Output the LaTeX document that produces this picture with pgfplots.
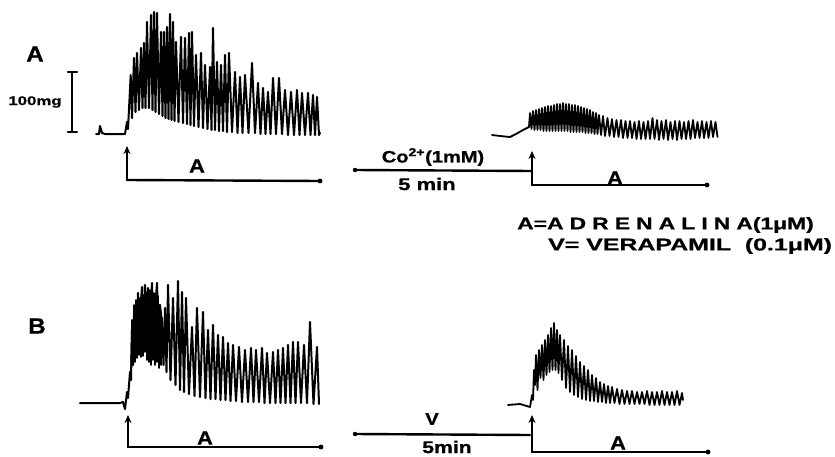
\documentclass[border=0pt]{standalone}
\usepackage{pgfplots}
\pgfplotsset{compat=1.18}
\usepackage{graphicx}
\usepackage{fontspec}
\setmainfont{Liberation Sans}[BoldFeatures={FakeBold=0.8}]
\usetikzlibrary{arrows.meta}
\newcommand\wide[2]{\scalebox{#1}[1]{#2}}
\begin{document}
\begin{tikzpicture}
\begin{axis}[scale only axis, width=835bp, height=457bp,
  xmin=0, xmax=835, ymin=0, ymax=457, y dir=reverse,
  hide axis, clip=false,
  every axis plot/.append style={black, line join=round, line cap=round}]
% invisible frame to fix the bounding box
\addplot[draw=none] coordinates {(0,0) (835,457)};

% ---------- Panel A, trace 1 ----------
\addplot[line width=2.0bp] coordinates {
(96,134) (99,134) (100,126) (102,133) (105,134) (125,134)
(127,122) (128,129) (130.7,75) (132,118) (134,58) (135.5,112) (137,53) (139,110)
(141,48) (142.5,108) (144,43) (145.5,108) (147,22) (149,108) (151,15) (152.5,110)
(154,12) (155.5,112) (157,13) (159,114) (161,32) (162.5,116) (164,32) (165.5,118)
(167,27) (168.5,119) (170,14) (171.5,120) (173,22) (174.5,121) (176,42) (178.5,122)
(181,37) (183,123) (185,38) (187,124) (189,33) (190.5,125) (192,32) (194,126)
(196,55) (198.5,127) (201,53) (203,128) (205,65) (207.5,129) (210,67) (211.5,130)
(213,28) (215,130) (217,62) (219,131) (221,65) (223,131) (225,55) (227,132)
(229,53) (232,132) (235,72) (237.5,133) (240,77) (242.5,133) (245,75) (248.5,133)
(252,63) (255,133) (258,83) (260.5,134) (263,88) (265.5,134) (268,92) (270.5,134)
(273,78) (276,134) (279,78) (282,134) (285,90) (288,135) (291,92) (294,135)
(297,90) (299.5,135) (302,93) (305,135) (308,93) (310.5,135) (313,95) (315,135)
(317,97) (319,135) (320,133)};

% ---------- Panel A, trace 2 ----------
\addplot[line width=1.8bp] coordinates {
(492,135) (500,136) (510,137) (516,134) (523,130) (527,128) (529,127)
(530,113) (531.5,129) (533,111) (534.5,130) (536,110) (537.5,130) (539,109) (540.5,130)
(542,108) (543.5,131) (545,107) (546.5,131) (548,106) (549.5,131) (551,106) (552.5,131)
(554,105) (555.5,131) (557,104) (558.5,131) (560,104) (561.5,131) (563,103) (564.5,131)
(566,104) (567.5,131) (569,104) (570.5,132) (572,105) (573.5,132) (575,105) (576.5,132)
(578,106) (579.5,132) (581,107) (582.5,132) (584,108) (585.5,133) (587,109) (588.5,133)
(590,110) (591.5,133) (593,112) (594.5,134) (596,113) (597.5,134) (599,115) (601,135)
(603,116) (605,136) (607.5,118) (609.5,136) (612,119) (614,137) (616.5,120) (618.5,137)
(621,120) (623,138) (625.5,121) (627.5,138) (630,121) (632,138) (634.5,122) (636.5,139)
(639,121) (641,139) (643.5,122) (645.5,139) (648,121) (650,139) (652.5,118) (654.5,139)
(657,120) (659,140) (661.5,121) (663.5,139) (666,120) (668,140) (670.5,122) (672.5,139)
(675,121) (677,140) (679.5,121) (681.5,139) (684,122) (686,139) (688.5,121) (690.5,139)
(693,120) (695,138) (697.5,122) (699.5,138) (702,121) (704,138) (706.5,122) (708.5,138)
(711,121) (713,137) (715.5,122) (717.5,137)};

% ---------- Panel B, trace 1 ----------
\addplot[line width=1.6bp] coordinates {
(131,370) (132,320) (133,360) (134,305) (135,362) (136,300) (137,358) (138,296)
(139,355) (140,298) (141,357) (142,292) (143,356) (144,295) (145,352) (146,292)
(147,360) (148,296) (149,362) (150,290) (151,365) (152,298) (153,360) (154,293)
(155,365) (156,300) (157,362) (158,296) (159,368) (160,305) (161,365) (162,318)};
\addplot[line width=2.0bp] coordinates {
(80,403) (120,403) (123,402) (125,409) (127,392) (128,398) (130,372) (131,380)
(132,330) (133,365) (135,308) (136.5,350) (138,293) (139.5,345) (141,300) (142,287)
(143.5,340) (145,285) (146.5,335) (148,288) (149.5,338) (151,300) (152,283) (154,345)
(155,310) (157,283) (159,350) (160,305) (162,322) (163.5,365) (165,308) (166.5,372)
(168,285) (170.5,380) (173,298) (175.5,385) (178,281) (180,390) (182,292) (184,392)
(186,298) (189,394) (192,327) (194.5,396) (197,308) (200,397) (203,312) (205.5,398)
(208,330) (210.5,399) (213,325) (215.5,399) (218,335) (220.5,400) (223,337) (225.5,400)
(228,343) (230.5,401) (233,345) (236,401) (239,347) (242,402) (245,350) (248,402)
(251,348) (253.5,402) (256,350) (259,402) (262,348) (264.5,403) (267,353) (270,403)
(273,352) (275.5,403) (278,350) (280.5,403) (283,348) (285.5,403) (288,345) (290.5,403)
(293,342) (295.5,403) (298,342) (301,403) (304,345) (307,403) (310,322) (313.5,404)
(317,347) (319,404)};

% ---------- Panel B, trace 2 ----------
\addplot[line width=1.8bp] coordinates {
(508,405) (520,404) (530,407) (532,395) (533,400) (534,370) (535,385) (536,355)
(537.5,390) (539,350) (540.5,378) (542,345) (543.5,380) (545,340) (546.5,375) (548,335)
(549.5,372) (551,328) (552.5,370) (554,323) (555.5,370) (557,330) (558.5,373) (560,335)
(562,380) (564,340) (566,388) (568,346) (570,392) (572,350) (574,395) (576,356)
(578,397) (580,362) (582,399) (584,366) (586,400) (588,370) (590,401) (592,375)
(594,401) (596,378) (598,402) (600,382) (602,402) (604,384) (606,403) (608,386)
(610,403) (612,387) (614.5,403) (617,389) (619.5,404) (622,390) (624.5,404) (627,391)
(629.5,404) (632,391) (634.5,404) (637,392) (639.5,404) (642,392) (644.5,404) (647,391)
(649.5,405) (652,392) (654.5,405) (657,392) (659.5,405) (662,391) (664.5,405) (667,392)
(669.5,405) (672,392) (674.5,405) (677,391) (679.5,405) (682,393) (683,400)};

% ---------- scale bar ----------
\addplot[line width=2.4bp] coordinates {(72,72) (72,132)};
\addplot[line width=2.4bp] coordinates {(68,72) (77,72)};
\addplot[line width=2.4bp] coordinates {(68,132) (77,132)};

% ---------- event markers, panel A ----------
\addplot[line width=2.4bp, -{Stealth[length=8bp,width=7bp]}] coordinates {(127,180) (127,146)};
\addplot[line width=2.4bp] coordinates {(127,180) (320,181)};
\addplot[only marks, mark=*, mark size=2.2bp] coordinates {(320,181)};
\addplot[line width=2.4bp] coordinates {(355,170) (532,171)};
\addplot[only marks, mark=*, mark size=2bp] coordinates {(355,170)};
\addplot[line width=2.4bp, -{Stealth[length=8bp,width=7bp]}] coordinates {(532,185) (532,151)};
\addplot[line width=2.4bp] coordinates {(532,185) (707,185)};
\addplot[only marks, mark=*, mark size=2.2bp] coordinates {(707,185)};

% ---------- event markers, panel B ----------
\addplot[line width=2.4bp, -{Stealth[length=8bp,width=7bp]}] coordinates {(128,447) (128,415)};
\addplot[line width=2.4bp] coordinates {(128,447) (321,447)};
\addplot[only marks, mark=*, mark size=2.2bp] coordinates {(321,447)};
\addplot[line width=2.4bp] coordinates {(355,434) (530,435)};
\addplot[only marks, mark=*, mark size=2bp] coordinates {(355,434)};
\addplot[line width=2.4bp, -{Stealth[length=8bp,width=7bp]}] coordinates {(532,452) (532,415)};
\addplot[line width=2.4bp] coordinates {(532,452) (708,452)};
\addplot[only marks, mark=*, mark size=2.2bp] coordinates {(708,452)};

% ---------- text ----------
\node[inner sep=0] at (axis cs:35,54) {\wide{1.1}{\fontsize{22}{22}\selectfont\bfseries A}};
\node[inner sep=0] at (axis cs:37,326) {\wide{1.1}{\fontsize{22}{22}\selectfont\bfseries B}};
\node[inner sep=0] at (axis cs:35,102) {\wide{1.35}{\fontsize{12.5}{12.5}\selectfont\bfseries 100mg}};
\node[inner sep=0] at (axis cs:197,166) {\wide{1.15}{\fontsize{19}{19}\selectfont\bfseries A}};
\node[inner sep=0] at (axis cs:615,178) {\wide{1.15}{\fontsize{19}{19}\selectfont\bfseries A}};
\node[inner sep=0] at (axis cs:205,438) {\wide{1.15}{\fontsize{19}{19}\selectfont\bfseries A}};
\node[inner sep=0] at (axis cs:618,443) {\wide{1.15}{\fontsize{19}{19}\selectfont\bfseries A}};
\node[inner sep=0] at (axis cs:433,157) {\wide{1.22}{\fontsize{16.5}{16.5}\selectfont\bfseries Co\textsuperscript{2+}(1mM)}};
\node[inner sep=0] at (axis cs:427,184) {\wide{1.3}{\fontsize{17}{17}\selectfont\bfseries 5 min}};
\node[inner sep=0] at (axis cs:432,419) {\wide{1.2}{\fontsize{17}{17}\selectfont\bfseries V}};
\node[inner sep=0] at (axis cs:447,447) {\wide{1.25}{\fontsize{17}{17}\selectfont\bfseries 5min}};
\node[inner sep=0, anchor=west] at (axis cs:517,225) {\wide{1.35}{\fontsize{17}{17}\selectfont\bfseries A=A\hspace{4.5bp}D\hspace{4.5bp}R\hspace{4.5bp}E\hspace{4.5bp}N\hspace{4.5bp}A\hspace{4.5bp}L\hspace{4.5bp}I\hspace{4.5bp}N\hspace{4.5bp}A(1μM)}};
\node[inner sep=0, anchor=west] at (axis cs:548,246) {\wide{1.47}{\fontsize{17}{17}\selectfont\bfseries V= VERAPAMIL \ (0.1μM)}};
\end{axis}
\end{tikzpicture}
\end{document}
